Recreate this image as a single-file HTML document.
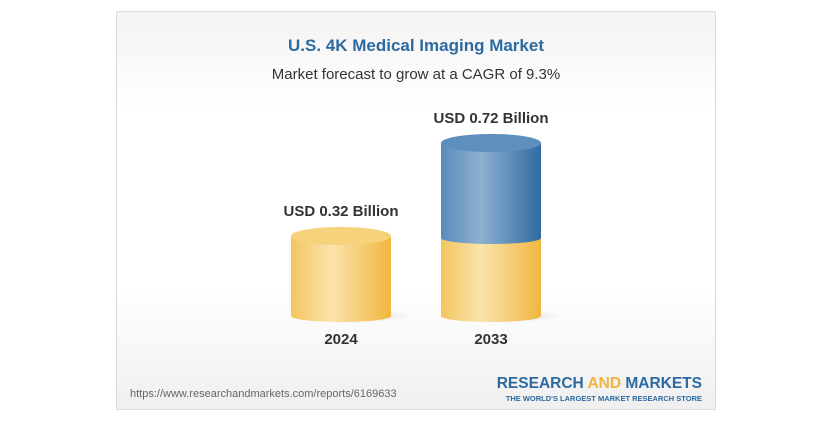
<!DOCTYPE html>
<html><head><style>
body{margin:0;background:#fff;width:833px;height:425px;overflow:hidden;font-family:"Liberation Sans",sans-serif}
</style></head><body>
<svg width="833" height="425" xmlns="http://www.w3.org/2000/svg">
<defs>
<linearGradient id="bg" x1="0" y1="0" x2="0" y2="1">
<stop offset="0" stop-color="#f3f3f3"/><stop offset="0.25" stop-color="#ffffff"/><stop offset="0.7" stop-color="#ffffff"/><stop offset="1" stop-color="#efefef"/></linearGradient>
<linearGradient id="yl" x1="0" y1="0" x2="1" y2="0">
<stop offset="0" stop-color="#f2c65e"/><stop offset="0.4" stop-color="#fbe3ad"/><stop offset="1" stop-color="#f0b73f"/></linearGradient>
<linearGradient id="bl" x1="0" y1="0" x2="1" y2="0">
<stop offset="0" stop-color="#5a8cbb"/><stop offset="0.4" stop-color="#8db0d0"/><stop offset="1" stop-color="#2f6ba1"/></linearGradient>
<radialGradient id="sh" cx="0.5" cy="0.5" r="0.5"><stop offset="0" stop-color="#d8d8d8"/><stop offset="1" stop-color="#d8d8d8" stop-opacity="0"/></radialGradient>
</defs>
<rect x="116.5" y="11.5" width="599" height="398" fill="url(#bg)" stroke="#dcdcdc"/>
<text x="416" y="51" text-anchor="middle" font-size="17" font-weight="bold" fill="#2c6aa0">U.S. 4K Medical Imaging Market</text>
<text x="416" y="79" text-anchor="middle" font-size="15" fill="#333">Market forecast to grow at a CAGR of 9.3%</text>
<ellipse cx="352" cy="316" rx="62" ry="7" fill="url(#sh)"/>
<ellipse cx="502" cy="316" rx="62" ry="7" fill="url(#sh)"/>
<rect x="291" y="236" width="100" height="80" fill="url(#yl)"/>
<ellipse cx="341" cy="316" rx="50" ry="6" fill="url(#yl)"/>
<ellipse cx="341" cy="236" rx="50" ry="9" fill="#f6d27c"/>
<rect x="441" y="238" width="100" height="78" fill="url(#yl)"/>
<ellipse cx="491" cy="316" rx="50" ry="6" fill="url(#yl)"/>
<rect x="441" y="143" width="100" height="95" fill="url(#bl)"/>
<ellipse cx="491" cy="238" rx="50" ry="6" fill="url(#bl)"/>
<ellipse cx="491" cy="143" rx="50" ry="9" fill="#5f8fbd"/>
<text x="341" y="216" text-anchor="middle" font-size="15" font-weight="bold" fill="#333">USD 0.32 Billion</text>
<text x="491" y="123" text-anchor="middle" font-size="15" font-weight="bold" fill="#333">USD 0.72 Billion</text>
<text x="341" y="344" text-anchor="middle" font-size="15" font-weight="bold" fill="#333">2024</text>
<text x="491" y="344" text-anchor="middle" font-size="15" font-weight="bold" fill="#333">2033</text>
<text x="130" y="397" font-size="11" fill="#666">https://www.researchandmarkets.com/reports/6169633</text>
<text x="702" y="388" text-anchor="end" font-size="15.5" font-weight="bold" fill="#2c6aa0">RESEARCH <tspan fill="#f0b43c">AND</tspan> MARKETS</text>
<text x="702" y="401" text-anchor="end" font-size="7.5" font-weight="bold" fill="#2c6aa0">THE WORLD'S LARGEST MARKET RESEARCH STORE</text>
</svg>
</body></html>
